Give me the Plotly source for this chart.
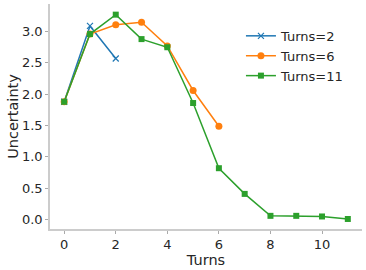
import plotly.graph_objects as go

turns2_x = [0, 1, 2]
turns2_y = [1.88, 3.09, 2.57]
turns6_x = [0, 1, 2, 3, 4, 5, 6]
turns6_y = [1.88, 2.96, 3.11, 3.15, 2.77, 2.06, 1.49]
turns11_x = [0, 1, 2, 3, 4, 5, 6, 7, 8, 9, 10, 11]
turns11_y = [1.88, 2.96, 3.27, 2.88, 2.75, 1.86, 0.82, 0.41, 0.06, 0.06, 0.05, 0.01]

x_ticks = [0, 2, 4, 6, 8, 10]
y_ticks = [0.0, 0.5, 1.0, 1.5, 2.0, 2.5, 3.0]

fig = go.Figure()
fig.add_trace(go.Scatter(x=turns2_x, y=turns2_y, name="Turns=2", mode="lines+markers",
                         line=dict(color="#1f77b4", width=1.5),
                         marker=dict(symbol="x-thin", size=6, line=dict(color="#1f77b4", width=1.2))))
fig.add_trace(go.Scatter(x=turns6_x, y=turns6_y, name="Turns=6", mode="lines+markers",
                         line=dict(color="#ff7f0e", width=1.5),
                         marker=dict(symbol="circle", size=7, color="#ff7f0e")))
fig.add_trace(go.Scatter(x=turns11_x, y=turns11_y, name="Turns=11", mode="lines+markers",
                         line=dict(color="#2ca02c", width=1.5),
                         marker=dict(symbol="square", size=6, color="#2ca02c")))

axis_common = dict(showgrid=False, zeroline=False, showline=True, linecolor="#cccccc", linewidth=1.5,
                   ticks="outside", ticklen=3, tickcolor="#aaaaaa", tickwidth=1, automargin=False,
                   tickfont=dict(family="DejaVu Sans", size=13, color="#262626"),
                   title_font=dict(family="DejaVu Sans", size=14.5, color="#262626"))

fig.update_xaxes(range=[-0.55, 11.55], tickvals=x_ticks, ticktext=[str(t) for t in x_ticks],
                 title_text="Turns", title_standoff=0, **axis_common)
fig.update_yaxes(range=[-0.15, 3.44], tickvals=y_ticks, ticktext=[f"{t:.1f}" for t in y_ticks],
                 title_text="Uncertainty", title_standoff=0, **axis_common)

fig.update_layout(
    width=366, height=270,
    margin=dict(l=50, r=4, t=4, b=41),
    plot_bgcolor="white", paper_bgcolor="white",
    font=dict(family="DejaVu Sans", color="#262626"),
    legend=dict(x=0.612, y=0.925, xanchor="left", yanchor="top", bgcolor="rgba(0,0,0,0)",
                font=dict(family="DejaVu Sans", size=13, color="#262626"),
                itemwidth=30, tracegroupgap=0),
)

fig.write_html("out.html", config={"displayModeBar": False},
               post_script="document.body.style.margin='0';document.body.style.overflow='hidden';")
